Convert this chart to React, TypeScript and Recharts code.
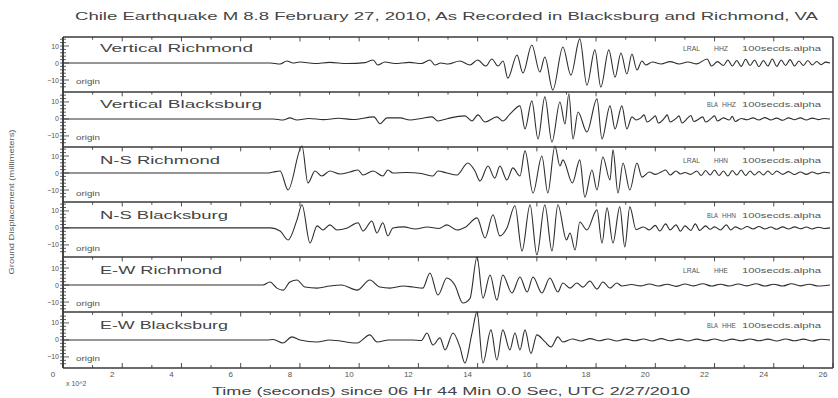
import React from 'react';
import { LineChart, Line, XAxis, YAxis, ReferenceLine } from 'recharts';

// ---------- data (time in units of 10^2 s, displacement in mm) ----------
const timeTicks = [0, 2, 4, 6, 8, 10, 12, 14, 16, 18, 20, 22, 24, 26];
const minorTimeTicks = [0,1,2,3,4,5,6,7,8,9,10,11,12,13,14,15,16,17,18,19,20,21,22,23,24,25,26];
const traceNames = ['Vertical Richmond', 'Vertical Blacksburg', 'N-S Richmond', 'N-S Blacksburg', 'E-W Richmond', 'E-W Blacksburg'];
const stationCodes = ['LRAL', 'BLA', 'LRAL', 'BLA', 'LRAL', 'BLA'];
const channelCodes = ['HHZ', 'HHZ', 'HHN', 'HHN', 'HHE', 'HHE'];
const yLabelValues = [-10, 0, 10];

const verticalRichmond = [
  [0,0],[7.0,0],[7.33,-0.6],[7.56,1.2],[7.77,0],[8.0,0.6],[8.5,-0.3],[9.0,0.4],[9.6,-0.3],[10.2,0.2],[10.47,1.8],[10.63,-1.2],[10.87,0.6],[11.2,-0.3],[11.7,0.4],[12.1,-0.3],[12.39,1.8],[12.56,-1.2],[12.76,0],[13.0,-0.6],[13.4,1.2],[13.74,-1.2],[14.0,1.8],[14.28,-1.8],[14.48,2.4],[14.69,-1.8],[14.86,1.2],[15.02,-8.9],[15.33,4.7],[15.53,-5.9],[15.83,10.6],[16.1,-5.3],[16.27,3.5],[16.54,-15.9],[16.88,9.4],[17.15,-7.1],[17.45,14.2],[17.69,-13],[17.96,7.7],[18.16,-14.2],[18.43,7.7],[18.64,-8.3],[18.84,5.9],[19.04,-6.5],[19.21,5.3],[19.38,-4.1],[19.55,1.2],[19.68,-1.2],[19.9,0.6],[20.2,-0.6],[20.5,0.8],[20.8,-0.6],[21.1,0.6],[21.4,-0.5],[21.75,2.4],[21.9,-1.8],[22.1,0.8],[22.3,-1.5],[22.45,1.8],[22.6,-1.8],[22.75,1.5],[22.9,-2.0],[23.05,2.2],[23.2,-1.5],[23.35,1.8],[23.5,-2.2],[23.65,1.5],[23.8,-1.8],[23.95,2.4],[24.1,-2.0],[24.25,1.8],[24.4,-1.5],[24.55,2.0],[24.7,-1.8],[24.85,1.2],[25.0,-1.5],[25.15,1.5],[25.3,-1.2],[25.45,0.9],[25.6,-1.0],[25.75,0.5],[25.9,0]
];
const verticalBlacksburg = [
  [0,0],[7.1,0],[7.43,-0.6],[7.66,0.6],[7.9,-0.6],[8.3,0.3],[8.8,-0.4],[9.3,0.4],[9.8,-0.3],[10.5,1.2],[10.7,-2.8],[10.94,0.6],[11.38,0.6],[11.72,-0.6],[12.1,0.3],[12.46,1.2],[12.66,-1.2],[13.0,0.3],[13.57,1.8],[13.81,-1.2],[14.01,2.4],[14.25,-1.8],[14.65,1.2],[14.85,-1.2],[15.1,3.0],[15.43,7.7],[15.6,-5.9],[15.83,10.6],[16.04,-11.8],[16.27,13],[16.51,-13.6],[16.78,10],[16.95,-3],[17.08,14.8],[17.22,-11.8],[17.39,4.1],[17.69,-7.7],[18.03,11.8],[18.2,-11.8],[18.47,7.7],[18.64,-5.9],[18.87,7.7],[19.04,-5.9],[19.21,1.2],[19.35,-0.6],[19.5,0.5],[19.62,2.4],[19.72,-1.8],[19.9,0.3],[20.0,1.8],[20.1,-2.4],[20.3,0.3],[20.4,2.4],[20.5,-1.8],[20.7,0.3],[20.8,1.8],[20.9,-2.4],[21.1,0.6],[21.2,2.0],[21.3,-1.5],[21.5,0.3],[21.6,1.2],[21.7,-1.8],[21.9,0.5],[22.0,1.8],[22.1,-1.2],[22.3,0.6],[22.5,-0.6],[22.6,1.5],[22.7,-1.5],[22.9,0.3],[23.1,-0.5],[23.3,0.6],[23.5,-0.6],[23.7,0.8],[23.9,-0.6],[24.1,0.5],[24.3,-0.8],[24.5,0.6],[24.7,-0.5],[24.9,0.6],[25.1,-0.6],[25.3,0.5],[25.5,-0.4],[25.7,0.3],[25.9,0]
];
const nsRichmond = [
  [0,0],[6.9,0],[7.1,0.6],[7.33,1.2],[7.6,-10],[8.07,15.9],[8.27,-5.9],[8.51,1.2],[8.74,-1.8],[9.01,1.2],[9.35,-0.6],[9.69,0.6],[9.96,1.8],[10.13,-1.2],[10.47,1.2],[10.8,-1.8],[10.97,1.8],[11.14,0],[11.6,0.3],[12.1,-0.3],[12.49,-1.8],[12.66,1.2],[12.96,0],[13.3,-1.2],[13.67,5.9],[13.91,1.2],[14.08,-4.7],[14.35,4.1],[14.58,-3.0],[14.75,4.1],[14.99,-4.1],[15.19,3.0],[15.43,-1.8],[15.6,13],[15.87,-11.8],[16.17,10],[16.37,-11.8],[16.61,15.9],[16.78,4.1],[16.88,7.7],[17.2,-5.9],[17.45,7.7],[17.62,-14.2],[17.86,1.8],[18.03,-10],[18.23,9.4],[18.47,-4.1],[18.57,13.6],[18.74,-11.8],[18.91,5.9],[19.14,-10],[19.38,5.9],[19.55,-2.4],[19.8,0.6],[20.0,-0.8],[20.2,0.6],[20.35,1.8],[20.5,-1.2],[20.7,1.2],[20.85,-0.6],[21.0,0.3],[21.2,-0.8],[21.4,1.2],[21.55,-1.5],[21.7,1.5],[21.85,-1.2],[22.0,1.8],[22.15,-1.5],[22.3,1.2],[22.45,-1.8],[22.6,1.5],[22.75,-1.2],[22.9,1.8],[23.05,-1.5],[23.2,1.2],[23.35,-1.2],[23.5,0.9],[23.65,-1.2],[23.8,1.2],[23.95,-0.9],[24.1,1.2],[24.3,-0.8],[24.5,0.8],[24.7,-0.9],[24.9,0.6],[25.1,-0.8],[25.3,0.6],[25.5,-0.5],[25.7,0.4],[25.9,0]
];
const nsBlacksburg = [
  [0,0],[7.0,0],[7.33,-1.8],[7.6,-7.1],[7.9,4.7],[8.07,13.6],[8.34,-8.9],[8.58,1.2],[8.78,-1.2],[9.01,1.8],[9.25,-1.2],[9.6,0],[9.96,3.0],[10.13,-1.8],[10.43,4.1],[10.6,-3.0],[10.8,3.0],[10.97,-4.7],[11.14,0],[11.5,0.6],[11.9,-0.6],[12.3,0.5],[12.7,-0.3],[12.96,1.8],[13.3,-1.2],[13.6,0.6],[13.98,5.9],[14.25,-5.9],[14.52,7.7],[14.75,-4.7],[14.99,0],[15.26,13],[15.5,-13.6],[15.77,13.6],[16.0,-15.9],[16.27,13.6],[16.51,-13.6],[16.71,13.6],[17.0,-7.1],[17.12,-3],[17.29,-13],[17.45,3.5],[17.69,-1.2],[18.03,10.6],[18.2,-8.9],[18.37,11.8],[18.57,-8.9],[18.8,12.4],[18.97,-11.2],[19.14,12.4],[19.35,-1],[19.6,0.5],[19.8,-1.2],[20.0,1.5],[20.15,-1.8],[20.35,2.4],[20.5,-1.2],[20.7,1.8],[20.85,-2.0],[21.0,1.2],[21.2,-1.5],[21.35,2.4],[21.5,-1.5],[21.7,1.2],[21.85,-0.8],[22.0,0.6],[22.2,-1.2],[22.4,1.8],[22.55,-1.2],[22.7,0.6],[22.9,-0.8],[23.1,0.8],[23.3,-0.6],[23.5,0.8],[23.7,-0.6],[23.9,0.5],[24.1,-0.8],[24.3,0.6],[24.5,-0.6],[24.7,0.6],[24.9,-0.5],[25.1,0.5],[25.3,-0.6],[25.5,0.4],[25.7,-0.3],[25.9,0]
];
const ewRichmond = [
  [0,0],[6.75,0],[6.99,1.8],[7.22,-1.8],[7.43,-3.0],[7.66,1.8],[7.9,3.0],[8.17,-1.2],[8.58,-1.8],[9.0,-0.6],[9.4,0],[9.93,-3.0],[10.36,3.0],[10.7,-1.2],[11.04,-1.8],[11.5,-0.6],[11.82,-1.2],[12.15,-1.8],[12.39,7.1],[12.66,-5.9],[12.96,4.1],[13.23,0],[13.5,-10.6],[13.74,-8],[13.98,16.5],[14.18,-7.7],[14.42,5.9],[14.65,-8.9],[14.85,5.9],[15.16,-4.7],[15.43,4.7],[15.67,-4.1],[15.87,4.7],[16.17,-4.7],[16.44,4.1],[16.71,-4.1],[16.88,1.2],[17.12,-1.8],[17.35,1.2],[17.56,-1.2],[17.79,2.4],[18.03,-2.4],[18.23,1.8],[18.47,-1.8],[18.7,1.2],[18.87,-0.6],[19.2,0.3],[19.5,-0.5],[19.8,0.6],[20.1,-0.6],[20.4,0.5],[20.7,-0.8],[21.0,0.6],[21.3,-0.5],[21.6,0.8],[21.9,-0.6],[22.2,0.5],[22.5,-0.6],[22.8,0.6],[23.1,-0.5],[23.4,0.8],[23.7,-0.6],[24.0,0.5],[24.3,-0.6],[24.6,0.8],[24.9,-0.5],[25.2,0.5],[25.5,-0.6],[25.9,0]
];
const ewBlacksburg = [
  [0,0],[6.89,0],[7.1,0.3],[7.43,-1.8],[7.73,1.8],[8.0,0],[8.58,-1.2],[9.0,0],[9.93,-1.8],[10.36,3.0],[10.6,-1.2],[11.0,0],[11.8,0],[12.1,-0.3],[12.29,4.1],[12.49,-3.0],[12.73,1.2],[12.9,-5.9],[13.17,4.1],[13.4,-4.1],[13.57,-13.6],[13.81,4],[13.98,16.5],[14.18,-13.6],[14.45,5.9],[14.65,-11.8],[14.85,5.9],[15.09,-5.9],[15.26,4.1],[15.43,-5.9],[15.6,5.9],[15.8,-8],[16.0,3],[16.27,-1],[16.48,-4.1],[16.71,1.8],[16.88,-1.2],[17.2,0.6],[17.5,-0.6],[17.8,0.8],[18.1,-0.5],[18.4,0.6],[18.7,-0.6],[19.0,0.5],[19.3,-0.5],[19.6,0.6],[19.9,-0.6],[20.2,0.8],[20.5,-0.5],[20.8,0.5],[21.1,-0.6],[21.4,0.5],[21.7,-0.5],[22.0,0.6],[22.3,-0.6],[22.6,0.5],[22.9,-0.5],[23.2,0.6],[23.5,-0.5],[23.8,0.5],[24.1,-0.6],[24.4,0.6],[24.7,-0.5],[25.0,0.5],[25.3,-0.6],[25.6,0.4],[25.9,0]
];

const traces = [verticalRichmond, verticalBlacksburg, nsRichmond, nsBlacksburg, ewRichmond, ewBlacksburg];

// ---------- layout ----------
const W = 838;
const H = 398;
const PLOT_LEFT = 63;
const PLOT_RIGHT = 833;
const PLOT_TOP = 37;
const PLOT_BOTTOM = 368;
const Y_AXIS_W = 24;
const Y_MAX = 194.7; // mm over the full plot height
const baselines = [179.4, 146.5, 114.7, 82.4, 48.8, 16.5];
const dividers = [194.7, 162.4, 130.0, 97.6, 65.3, 32.9];
const panelTextY = [48, 104, 160, 215, 270, 325];
const labelWidths = [153, 162, 120, 128, 122, 128];
const FONT = '"Liberation Sans", Arial, sans-serif';
const INK = '#3a3a3a';

const series = traces.map((tr, i) => tr.map(([t, v]) => ({ t, y: baselines[i] + v })));

const yTicks: number[] = [];
baselines.forEach((b) => {
  for (let k = -7; k <= 7; k++) yTicks.push(Math.round((b + k * 2) * 100) / 100);
});

const YTick = (props: any) => {
  const { y, payload } = props;
  const x = PLOT_LEFT;
  const v = payload.value;
  let best = baselines[0];
  baselines.forEach((b) => { if (Math.abs(b - v) < Math.abs(best - v)) best = b; });
  const off = Math.round(v - best);
  const labelled = yLabelValues.includes(off);
  return (
    <g>
      <line x1={x} x2={x + (labelled ? 6 : 3)} y1={y} y2={y} stroke={INK} strokeWidth={0.8} />
      <line x1={x - 3} x2={x} y1={y} y2={y} stroke={INK} strokeWidth={0.8} />
      {labelled ? (
        <text x={x - 4} y={y + 2.5} textAnchor="end" fontSize={7} fill="#555" fontFamily={FONT}>{off < 0 ? '\u2212' + Math.abs(off) : String(off)}</text>
      ) : null}
    </g>
  );
};

const XTick = (props: any) => {
  const { x, payload } = props;
  const y = PLOT_BOTTOM;
  const v = payload.value;
  const major = v % 2 === 0;
  return (
    <g>
      <line x1={x} x2={x} y1={y} y2={y - (major ? 5 : 3)} stroke={INK} strokeWidth={0.9} />
      {major ? (
        <text x={x - 10} y={y + 9} textAnchor="middle" fontSize={8} fill="#555" fontFamily={FONT}>{v}</text>
      ) : null}
    </g>
  );
};

export default function App() {
  return (
    <div style={{ position: 'absolute', left: 0, top: 0, width: W, height: H, background: '#fff' }}>
      <LineChart
        width={W}
        height={H}
        margin={{ top: PLOT_TOP, right: W - PLOT_RIGHT, bottom: 10, left: PLOT_LEFT - Y_AXIS_W }}
      >
        <XAxis
          type="number"
          dataKey="t"
          domain={[0, 26]}
          ticks={minorTimeTicks}
          interval={0}
          tick={<XTick />}
          tickLine={false}
          tickSize={0}
          tickMargin={0}
          height={H - 10 - PLOT_BOTTOM}
          axisLine={{ stroke: INK, strokeWidth: 1.5 }}
          allowDataOverflow
        />
        <YAxis
          type="number"
          domain={[0, Y_MAX]}
          ticks={yTicks}
          interval={0}
          tick={<YTick />}
          tickLine={false}
          width={Y_AXIS_W}
          axisLine={{ stroke: INK, strokeWidth: 1.5 }}
          allowDataOverflow
        />
        <ReferenceLine x={26} stroke={INK} strokeWidth={1.5} />
        <ReferenceLine x={0} stroke={INK} strokeWidth={1.5} />
        {dividers.map((d, i) => (
          <ReferenceLine key={'d' + i} y={d} stroke={INK} strokeWidth={1.5} />
        ))}
        {dividers.map((d, i) =>
          minorTimeTicks.slice(1, -1).map((t) => (
            <ReferenceLine
              key={'tk' + i + '-' + t}
              segment={[{ x: t, y: d }, { x: t, y: d - (t % 2 === 0 ? 2.6 : 1.6) }]}
              stroke={INK}
              strokeWidth={0.9}
            />
          ))
        )}
        {series.map((s, i) => (
          <Line
            key={'s' + i}
            data={s}
            dataKey="y"
            type="monotone"
            stroke="#2e2e2e"
            strokeWidth={1.1}
            dot={false}
            isAnimationActive={false}
          />
        ))}
      </LineChart>
      <svg width={W} height={H} style={{ position: 'absolute', left: 0, top: 0, pointerEvents: 'none' }}>
        <text x={75} y={20} fontSize={11} fill="#444" fontFamily={FONT} textLength={743} lengthAdjust="spacingAndGlyphs">
          Chile Earthquake M 8.8   February 27, 2010, As Recorded in Blacksburg and Richmond, VA
        </text>
        {traceNames.map((n, i) => (
          <text key={'n' + i} x={100} y={panelTextY[i] + 4} fontSize={11} fill="#444" fontFamily={FONT} textLength={labelWidths[i]} lengthAdjust="spacingAndGlyphs">
            {n}
          </text>
        ))}
        {traceNames.map((n, i) => (
          <text key={'o' + i} x={76} y={panelTextY[i] + 36} fontSize={7} fill="#555" fontFamily={FONT} textLength={24} lengthAdjust="spacingAndGlyphs">origin</text>
        ))}
        {stationCodes.map((c, i) => (
          <text key={'c' + i} x={i % 2 === 0 ? 683 : 707} y={panelTextY[i] + 3} fontSize={7} fill="#555" fontFamily={FONT} textLength={i % 2 === 0 ? 17 : 11} lengthAdjust="spacingAndGlyphs">
            {c}
          </text>
        ))}
        {channelCodes.map((c, i) => (
          <text key={'h' + i} x={i % 2 === 0 ? 714 : 722} y={panelTextY[i] + 3} fontSize={7} fill="#555" fontFamily={FONT} textLength={14} lengthAdjust="spacingAndGlyphs">
            {c}
          </text>
        ))}
        {channelCodes.map((c, i) => (
          <text key={'r' + i} x={742} y={panelTextY[i] + 3} fontSize={7} fill="#555" fontFamily={FONT} textLength={79} lengthAdjust="spacingAndGlyphs">
            100secds.alpha
          </text>
        ))}
        <text x={66} y={386} fontSize={7} fill="#555" fontFamily={FONT}>x 10^2</text>
        <text x={212} y={395} fontSize={10} fill="#444" fontFamily={FONT} textLength={478} lengthAdjust="spacingAndGlyphs">
          Time (seconds) since 06 Hr 44 Min 0.0 Sec, UTC 2/27/2010
        </text>
        <text x={14} y={202} fontSize={8} fill="#555" fontFamily={FONT} textAnchor="middle" textLength={145} lengthAdjust="spacingAndGlyphs" transform="rotate(-90 14 202)">
          Ground Displacement (millimeters)
        </text>
      </svg>
    </div>
  );
}
